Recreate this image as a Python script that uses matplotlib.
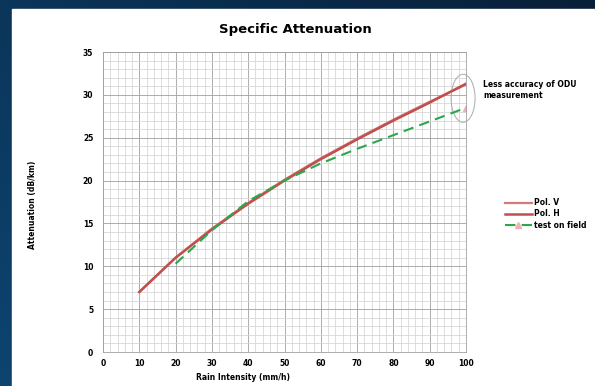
import numpy as np
import matplotlib.pyplot as plt
from matplotlib.patches import Ellipse, Rectangle

# rain intensity (mm/h)
rain = [10, 20, 30, 40, 50, 60, 70, 80, 90, 100]
pol_v = [7.0, 11.0, 14.4, 17.4, 20.1, 22.6, 24.9, 27.1, 29.2, 31.2]
pol_h = [7.0, 11.0, 14.3, 17.3, 20.0, 22.5, 24.8, 27.0, 29.1, 31.3]

field_rain = [20, 30, 40, 50, 60, 70, 80, 90, 100]
field_att = [10.3, 14.2, 17.6, 20.0, 22.0, 23.7, 25.3, 26.9, 28.5]

xticks = [0, 10, 20, 30, 40, 50, 60, 70, 80, 90, 100]
yticks = [0, 5, 10, 15, 20, 25, 30, 35]

fig = plt.figure(figsize=(5.95, 3.86), dpi=100)

# navy gradient background
bg = fig.add_axes([0, 0, 1, 1], zorder=-10)
gx, gy = np.meshgrid(np.linspace(0, 1, 200), np.linspace(0, 1, 200))
grad = 0.6 * gx + 0.4 * (1 - gy)
bg.imshow(grad, cmap=plt.matplotlib.colors.LinearSegmentedColormap.from_list(
    'nv', ['#0d4470', '#081f38']), extent=[0, 1, 0, 1], aspect='auto', origin='upper')
bg.add_patch(Rectangle((12 / 595, 0), 1, (386 - 9) / 386, color='white',
                       transform=bg.transAxes))
bg.set_xlim(0, 1)
bg.set_ylim(0, 1)
bg.axis('off')

ax = fig.add_axes([103 / 595, 34 / 386, 363 / 595, 300 / 386])
ax.set_facecolor('white')
ax.set_xlim(0, 100)
ax.set_ylim(0, 35)
ax.set_xticks(xticks)
ax.set_yticks(yticks)
ax.set_xticks(np.arange(0, 101, 2), minor=True)
ax.set_yticks(np.arange(0, 36, 1), minor=True)
ax.grid(which='major', color='#a0a0a0', lw=0.6)
ax.grid(which='minor', color='#d4d4d4', lw=0.55)
ax.tick_params(which='both', length=0)
ax.tick_params(axis='x', labelsize=5.5, pad=5)
ax.tick_params(axis='y', labelsize=5.5, pad=7)
for lab in ax.get_xticklabels() + ax.get_yticklabels():
    lab.set_fontweight('bold')
for s in ax.spines.values():
    s.set_color('#a0a0a0')
    s.set_linewidth(0.6)
ax.set_axisbelow(True)

ax.plot(rain, pol_v, color='#d07c7a', lw=1.6, label='Pol. V')
ax.plot(rain, pol_h, color='#c0504d', lw=1.8, label='Pol. H')
ax.plot(field_rain, field_att, color='#2aa84a', lw=1.5, ls=(0, (5, 3)),
        marker='^', markevery=[len(field_rain) - 1], markersize=5,
        markerfacecolor='#f0b0b8', markeredgecolor='#f0b0b8', label='test on field')

ell = Ellipse((99.2, 29.6), 6.6, 5.6, fill=False, ec='#aaaaaa', lw=0.7, clip_on=False)
ax.add_patch(ell)

fig.text(483 / 595, 1 - 90 / 386, 'Less accuracy of ODU\nmeasurement', fontsize=5.5,
         fontweight='bold', va='center', ha='left', linespacing=1.3)

fig.text(295 / 595, 1 - 30 / 386, 'Specific Attenuation', fontsize=9.5,
         fontweight='bold', ha='center', va='center')
fig.text(243 / 595, 1 - 377 / 386, 'Rain Intensity (mm/h)', fontsize=5.5,
         fontweight='bold', ha='center', va='center')
fig.text(33 / 595, 1 - 205 / 386, 'Attenuation (dB/km)', fontsize=5.5,
         fontweight='bold', ha='center', va='center', rotation=90)

leg = fig.legend(loc='center left', bbox_to_anchor=(498 / 595, 1 - 214 / 386),
                 frameon=False, fontsize=5.5, handlelength=3.5, handletextpad=0.3,
                 labelspacing=0.3)
for t in leg.get_texts():
    t.set_fontweight('bold')

fig.savefig('out.png', dpi=100)
